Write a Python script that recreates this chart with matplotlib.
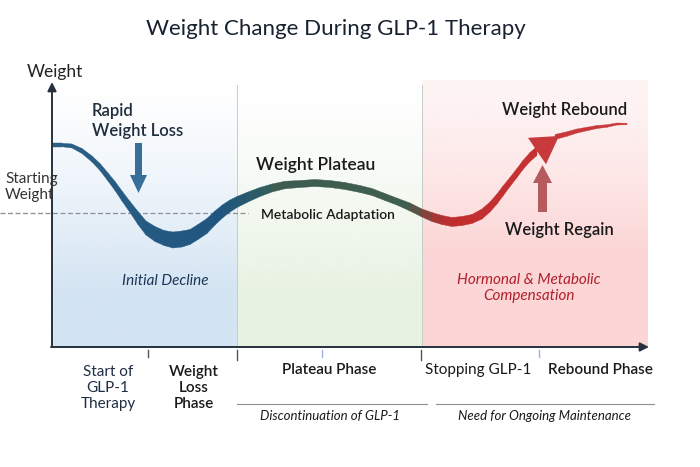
import numpy as np
import matplotlib
matplotlib.use("Agg")
import matplotlib.pyplot as plt
from matplotlib.collections import PolyCollection
from matplotlib.colors import LinearSegmentedColormap, to_rgb
from matplotlib.patches import FancyArrow

plt.rcParams["font.family"] = ["Lato", "DejaVu Sans"]

# curve: time (x), weight (y) and band thickness
time = [0, 10, 20, 30, 40, 48, 56, 63, 70, 78, 86, 94, 103, 112, 121, 130, 138,
        146, 155, 163, 171, 178, 185, 196, 208, 220, 233, 248, 263, 278, 293,
        308, 320, 333, 346, 358, 370, 380, 390, 400, 410, 420, 430, 438, 445,
        451, 458, 465, 471, 478, 485]
weight = [202, 202, 201, 196, 188, 180, 170, 161, 151, 140, 129, 119, 113, 109,
          107, 108, 110, 115, 121, 129, 136, 141, 145, 150, 155, 159, 162, 163,
          164, 163, 161, 158, 155, 150, 145, 140, 134, 130, 127, 125, 126, 128,
          133, 140, 148, 156, 165, 174, 182, 190, 196]
band = [3.5, 3.5, 4, 5, 6, 7, 8, 9, 10, 11, 13, 14, 15, 15, 16, 16, 15, 15, 15, 14,
        13, 12, 11, 10, 9, 8, 7.5, 7, 7, 7, 7, 7, 7, 7, 7, 8, 8, 9, 9, 9, 9,
        9, 10, 10, 10, 10, 9, 9, 9, 9, 9]

# rebound arrow tip and the thin tail after it
tip = (507, 211)
tail_time = [503, 515, 525, 535, 545, 555, 565, 575]
tail_weight = [210, 213, 216, 218, 220, 221, 223, 223]
tail_band = [5, 4.5, 4, 3.5, 3, 2.5, 2, 1.5]

start_weight = 134
phase_edges = [0, 185, 370, 596]
phase_colors = ["#d3e4f3", "#e8f2e2", "#fcd6d6"]
tick_pos = [96, 185, 270, 369, 487]
tick_long = [False, True, False, True, False]
tick_colors = ["#555555", "#555555", "#9db3dc", "#555555", "#9db3dc"]

fig = plt.figure(figsize=(7, 4.67), dpi=100)

ax = fig.add_axes([52 / 700, (467 - 347) / 467, 596 / 700, 267 / 467])
ax.set_xlim(0, 596)
ax.set_ylim(0, 267)
ax.axis("off")
ax.set_zorder(1)

# overlay in pixel units for the text layout, drawn above the chart
ov = fig.add_axes([0, 0, 1, 1])
ov.set_xlim(0, 700)
ov.set_ylim(467, 0)
ov.axis("off")
ov.set_zorder(2)

# shaded phases, fading out toward the top
for i, col in enumerate(phase_colors):
    rgb = np.array(to_rgb(col))
    n = 200
    a = np.clip(np.linspace(1.25, 0, n), 0, 1) ** 1.3
    if i == 2:
        a = np.clip(a + 0.25, 0, 1)
    img = np.zeros((n, 2, 4))
    img[:, :, :3] = rgb
    img[:, :, 3] = a[:, None]
    ax.imshow(img, extent=(phase_edges[i], phase_edges[i + 1], 0, 267),
              origin="lower", aspect="auto", interpolation="bilinear", zorder=0)
for e in phase_edges[1:3]:
    ax.plot([e, e], [0, 262], color="#c5cdc8", lw=0.7, zorder=1)

ax.plot([-52, 196], [start_weight, start_weight], color="#8a8f96", lw=0.9,
        ls=(0, (4, 2)), clip_on=False, zorder=2)

# curve band with colour shifting by phase
cmap = LinearSegmentedColormap.from_list("phase", [
    (0.0, "#2c5f86"), (0.28, "#1f567f"), (0.33, "#285a6c"), (0.38, "#3d5d50"),
    (0.6, "#3f5e4e"), (0.64, "#9b3a36"), (0.67, "#c12d2f"), (1.0, "#c8393b")])
polys, cols = [], []
for i in range(len(time) - 1):
    t0, t1 = time[i], time[i + 1]
    w0, w1 = weight[i], weight[i + 1]
    b0, b1 = band[i] / 2, band[i + 1] / 2
    polys.append([(t0, w0 + b0), (t1, w1 + b1), (t1, w1 - b1), (t0, w0 - b0)])
    cols.append(cmap((t0 + t1) / 2 / 596))
ax.add_collection(PolyCollection(polys, facecolors=cols, edgecolors=cols,
                                 linewidths=0.3, zorder=3))
tail = []
for i in range(len(tail_time) - 1):
    tail.append([(tail_time[i], tail_weight[i] + tail_band[i] / 2),
                 (tail_time[i + 1], tail_weight[i + 1] + tail_band[i + 1] / 2),
                 (tail_time[i + 1], tail_weight[i + 1] - tail_band[i + 1] / 2),
                 (tail_time[i], tail_weight[i] - tail_band[i] / 2)])
ax.add_collection(PolyCollection(tail, facecolors="#c8393b", edgecolors="#c8393b",
                                 linewidths=0.3, zorder=3))
ax.annotate("", xy=tip, xytext=(time[-1], weight[-1]),
            arrowprops=dict(arrowstyle="-|>,head_length=0.4,head_width=0.24",
                            color="#c8393b", mutation_scale=48, lw=0,
                            shrinkA=0, shrinkB=0), zorder=4)

# axes arrows
ax_col = "#27313d"
ov.annotate("", xy=(52, 82), xytext=(52, 347),
            arrowprops=dict(arrowstyle="-|>", color=ax_col, lw=1.4,
                            mutation_scale=13, shrinkA=0, shrinkB=0))
ov.annotate("", xy=(649, 347), xytext=(51, 347),
            arrowprops=dict(arrowstyle="-|>", color=ax_col, lw=1.4,
                            mutation_scale=13, shrinkA=0, shrinkB=0))
for p, lg, c in zip(tick_pos, tick_long, tick_colors):
    ax.plot([p, p], [-3, -13 if lg else -10], color=c, lw=1, clip_on=False)

# small arrows
ov.add_patch(FancyArrow(138.5, 143, 0, 50, width=7, head_width=17, head_length=18,
                        length_includes_head=True, color="#2d6896", lw=0, alpha=0.95))
ov.add_patch(FancyArrow(542.5, 212, 0, -47, width=9, head_width=19, head_length=18,
                        length_includes_head=True, color="#b55a5d", lw=0))

dark = "#182230"
ov.text(336, 29, "Weight Change During GLP-1 Therapy", ha="center", va="center",
        fontsize=16, color=dark)
ov.text(55, 72, "Weight", ha="center", va="center", fontsize=12.5, color="#222222")
ov.text(5, 187, "Starting\nWeight", ha="left", va="center", fontsize=11,
        color="#333333", linespacing=1.15)
ov.text(92, 121, "Rapid\nWeight Loss", ha="left", va="center", fontsize=12,
        fontweight="semibold", color="#1f2d3d", linespacing=1.25)
ov.text(316, 165, "Weight Plateau", ha="center", va="center", fontsize=12.5,
        fontweight="semibold", color="#1a1a1a")
ov.text(328, 215, "Metabolic Adaptation", ha="center", va="center", fontsize=10,
        fontweight="semibold", color="#1a1a1a")
ov.text(165, 281, "Initial Decline", ha="center", va="center", fontsize=11,
        style="italic", color="#1d3557")
ov.text(565, 110, "Weight Rebound", ha="center", va="center", fontsize=12,
        fontweight="semibold", color="#1a1a1a")
ov.text(559, 230, "Weight Regain", ha="center", va="center", fontsize=12,
        fontweight="semibold", color="#1a1a1a")
ov.text(529, 288, "Hormonal & Metabolic\nCompensation", ha="center", va="center",
        fontsize=11, style="italic", color="#b0202c", linespacing=1.2)

ov.text(108, 388, "Start of\nGLP-1\nTherapy", ha="center", va="center",
        fontsize=11, color="#1e2e45", linespacing=1.15)
ov.text(194, 388, "Weight\nLoss\nPhase", ha="center", va="center", fontsize=11,
        fontweight="semibold", color="#1a1a1a", linespacing=1.15)
ov.text(329, 370, "Plateau Phase", ha="center", va="center", fontsize=11,
        fontweight="semibold", color="#1a1a1a")
ov.text(478, 370, "Stopping GLP-1", ha="center", va="center", fontsize=11,
        color="#1a1a1a")
ov.text(600, 370, "Rebound Phase", ha="center", va="center", fontsize=11,
        fontweight="semibold", color="#1a1a1a")
ov.plot([237, 427], [404, 404], color="#8c9096", lw=0.8)
ov.plot([436, 654], [404, 404], color="#8c9096", lw=0.8)
ov.text(330, 416, "Discontinuation of GLP-1", ha="center", va="center",
        fontsize=9.5, style="italic", color="#1a1a1a")
ov.text(545, 416, "Need for Ongoing Maintenance", ha="center", va="center",
        fontsize=9.5, style="italic", color="#1a1a1a")

fig.savefig("out.png", dpi=100)
